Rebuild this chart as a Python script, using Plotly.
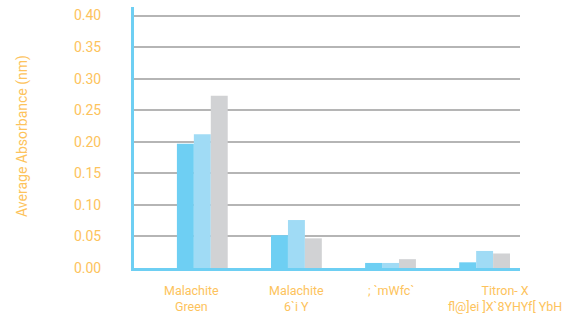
import plotly.graph_objects as go

categories = ["Malachite<br>Green", "Malachite<br>6`i Y", "; `mWfc`", "Titron- X<br>fl@]ei ]X`8YHYf[ YbH"]
series_a = [0.197, 0.052, 0.008, 0.009]
series_b = [0.212, 0.076, 0.008, 0.027]
series_c = [0.273, 0.047, 0.014, 0.023]
y_ticks = [0.00, 0.05, 0.10, 0.15, 0.20, 0.25, 0.30, 0.35, 0.40]
y_title = "Average Absorbance (nm)"

orange = "#FDC35C"
axis_blue = "#6ECFF3"
font_family = "Roboto"

x_idx = list(range(len(categories)))

fig = go.Figure()
for vals, col in [(series_a, "#6ECFF3"), (series_b, "#A0DBF5"), (series_c, "#D1D2D4")]:
    fig.add_trace(go.Bar(x=x_idx, y=vals, marker=dict(color=col, line=dict(width=0)), showlegend=False))

label_shift = [-11, 0, 0, 20]
for i, (c, s) in enumerate(zip(categories, label_shift)):
    fig.add_annotation(x=i, y=0, xref="x", yref="y", text=c, showarrow=False,
                       yanchor="top", yshift=-13, xshift=s, align="center",
                       font=dict(family=font_family, size=12.5, color=orange))

fig.add_annotation(x=-0.2876, y=0.506, xref="paper", yref="paper", text=y_title,
                   showarrow=False, textangle=-90, xanchor="center", yanchor="middle",
                   font=dict(family=font_family, size=14, color=orange))

fig.update_layout(
    width=562, height=318,
    margin=dict(l=134, r=42, t=7, b=50),
    paper_bgcolor="white", plot_bgcolor="white",
    barmode="group", bargap=0.46, bargroupgap=0,
    hovermode=False,
    xaxis=dict(range=[-0.726, 3.376], showticklabels=False, showgrid=False, zeroline=False,
               showline=True, linecolor=axis_blue, linewidth=3, ticks=""),
    yaxis=dict(range=[0, 0.4135], tickvals=y_ticks, ticktext=[f"{v:.2f}" for v in y_ticks],
               showgrid=True, gridcolor="#B5B5B5", gridwidth=2, zeroline=False,
               showline=True, linecolor=axis_blue, linewidth=3, ticks="",
               ticklabelstandoff=27,
               tickfont=dict(family=font_family, size=14, color=orange)),
)

fig.write_html("out.html", config={"displayModeBar": False},
               post_script="document.body.style.margin='0';")
